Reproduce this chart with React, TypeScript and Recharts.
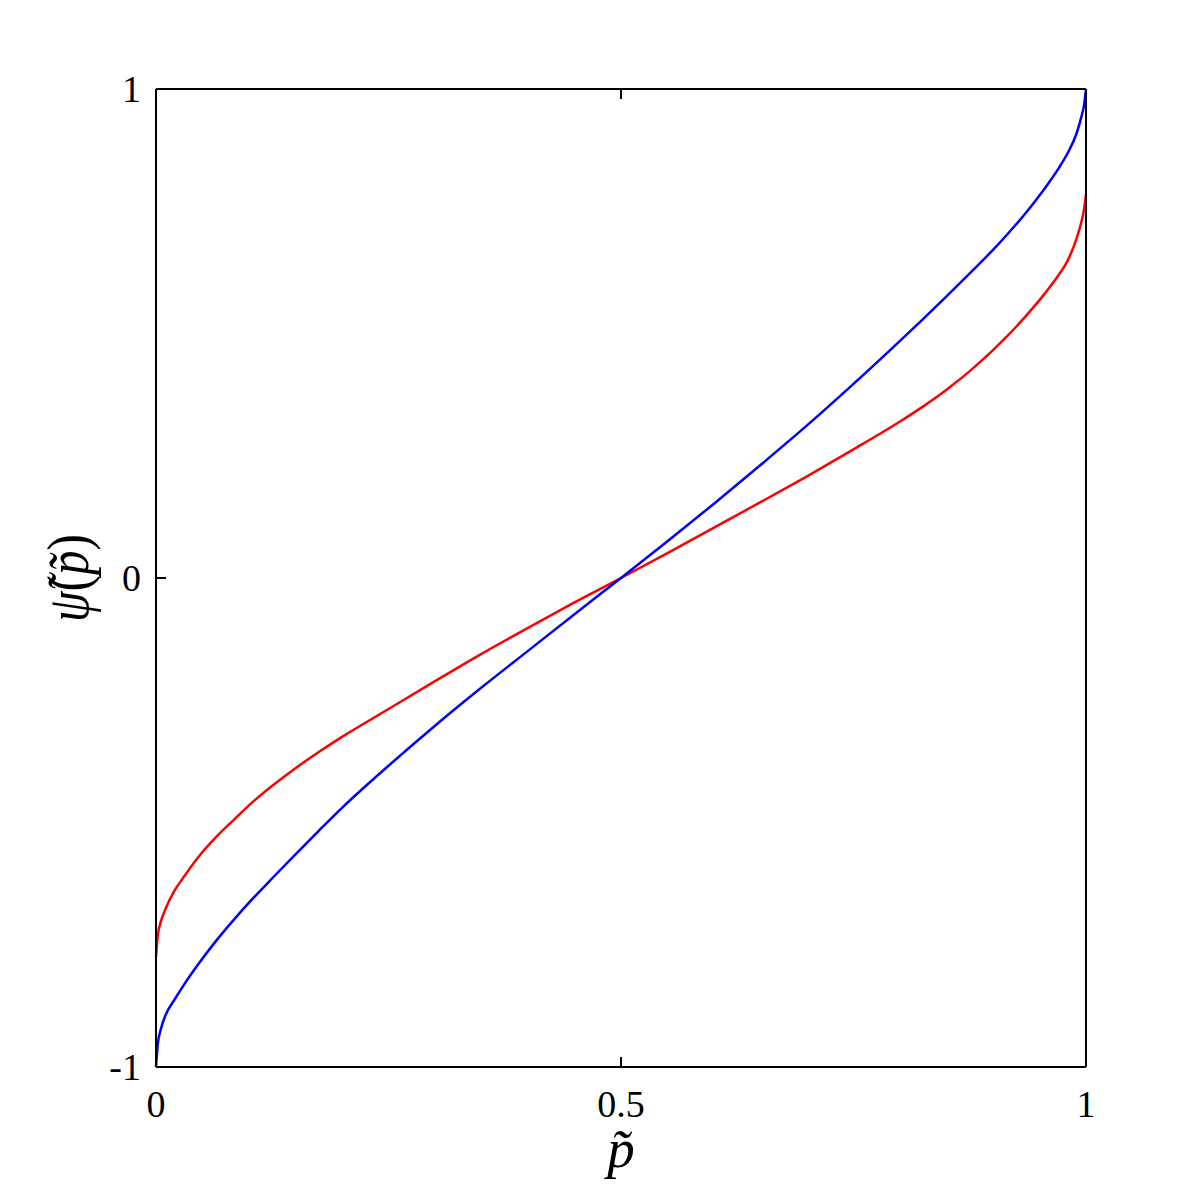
import { Label, Line, LineChart, XAxis, YAxis } from "recharts"

// p~ sample positions shared by both curves
const pValues = [
  0, 0.002, 0.005, 0.01, 0.02, 0.03, 0.045, 0.065, 0.085, 0.1, 0.125, 0.15, 0.175, 0.2, 0.25,
  0.3, 0.35, 0.4, 0.45, 0.5, 0.55, 0.6, 0.65, 0.7, 0.75, 0.8, 0.825, 0.85, 0.875, 0.9,
  0.915, 0.935, 0.955, 0.97, 0.98, 0.99, 0.995, 0.998, 1,
]

const blueValues = [
  -1, -0.952, -0.924, -0.895, -0.862, -0.832, -0.791, -0.741, -0.696, -0.664, -0.614, -0.565, -0.517, -0.47, -0.384,
  -0.302, -0.224, -0.149, -0.074, 0, 0.075, 0.152, 0.231, 0.312, 0.397, 0.485, 0.53, 0.576, 0.623, 0.671,
  0.702, 0.746, 0.795, 0.836, 0.868, 0.91, 0.943, 0.968, 1,
]

const redValues = [
  -0.775, -0.73, -0.704, -0.678, -0.639, -0.611, -0.572, -0.529, -0.492, -0.465, -0.425, -0.389, -0.356, -0.325, -0.268,
  -0.211, -0.155, -0.102, -0.05, 0, 0.051, 0.103, 0.155, 0.208, 0.263, 0.32, 0.351, 0.385, 0.423, 0.466,
  0.494, 0.535, 0.58, 0.618, 0.648, 0.695, 0.728, 0.755, 0.785,
]

const xTicks = [0, 0.5, 1]
const yTicks = [-1, 0, 1]

const data = pValues.map((p, i) => ({ p, blue: blueValues[i], red: redValues[i] }))

const font = "'Liberation Serif', 'Times New Roman', serif"
const tickStyle = { fontSize: 38, fill: "#000", fontFamily: font }
const axisLine = { stroke: "#000", strokeWidth: 2 }

export default function App() {
  return (
    <div style={{ position: "absolute", left: 0, top: 0, background: "#fff" }}>
      <LineChart width={1200} height={1200} data={data} margin={{ top: 79, right: 104, bottom: 73, left: 96 }}>
        <XAxis
          xAxisId="bottom"
          dataKey="p"
          type="number"
          domain={[0, 1]}
          ticks={xTicks}
          tickFormatter={(v) => String(v)}
          height={60}
          tickSize={-10}
          tickMargin={33}
          axisLine={axisLine}
          tickLine={axisLine}
          tick={tickStyle}
        >
          <Label
            content={({ viewBox }: any) => (
              <text
                x={viewBox.x + viewBox.width / 2}
                y={viewBox.y + 100}
                textAnchor="middle"
                fontFamily={font}
                fontStyle="italic"
                fontSize={55}
              >
                p̃
              </text>
            )}
          />
        </XAxis>
        <XAxis
          xAxisId="top"
          orientation="top"
          dataKey="p"
          type="number"
          domain={[0, 1]}
          ticks={xTicks}
          tickFormatter={() => ""}
          height={10}
          tickSize={-10}
          axisLine={axisLine}
          tickLine={axisLine}
        />
        <YAxis
          yAxisId="left"
          type="number"
          domain={[-1, 1]}
          ticks={yTicks}
          width={60}
          tickSize={-10}
          tickMargin={25}
          axisLine={axisLine}
          tickLine={axisLine}
          tick={tickStyle}
        >
          <Label
            content={({ viewBox }: any) => {
              const cx = viewBox.x - 8
              const cy = viewBox.y + viewBox.height / 2
              return (
                <text
                  x={cx}
                  y={cy}
                  transform={`rotate(-90 ${cx} ${cy})`}
                  textAnchor="middle"
                  fontFamily={font}
                  fontSize={60}
                  textLength={88}
                  lengthAdjust="spacingAndGlyphs"
                >
                  <tspan fontStyle="italic">ψ̃</tspan>
                  <tspan>(</tspan>
                  <tspan fontStyle="italic">p̃</tspan>
                  <tspan>)</tspan>
                </text>
              )
            }}
          />
        </YAxis>
        <YAxis
          yAxisId="right"
          orientation="right"
          type="number"
          domain={[-1, 1]}
          ticks={yTicks}
          tickFormatter={() => ""}
          width={10}
          tickSize={-10}
          axisLine={axisLine}
          tickLine={axisLine}
        />
        <Line
          xAxisId="bottom"
          yAxisId="left"
          dataKey="red"
          type="monotone"
          stroke="#ff0000"
          strokeWidth={2.5}
          dot={false}
          isAnimationActive={false}
        />
        <Line
          xAxisId="bottom"
          yAxisId="left"
          dataKey="blue"
          type="monotone"
          stroke="#0000ff"
          strokeWidth={2.5}
          dot={false}
          isAnimationActive={false}
        />
      </LineChart>
    </div>
  )
}
